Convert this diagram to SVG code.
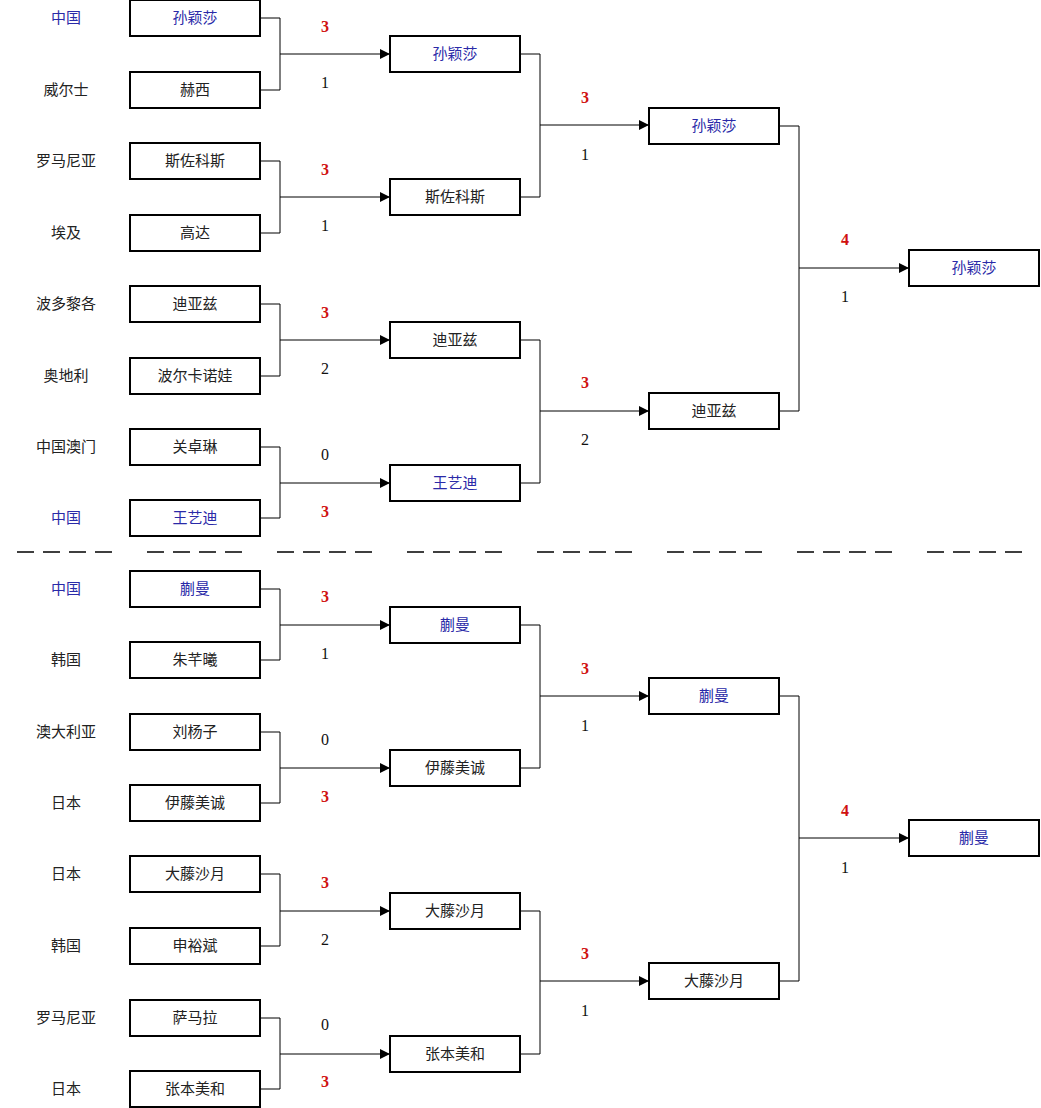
<svg xmlns="http://www.w3.org/2000/svg" width="1041" height="1108" viewBox="0 0 1041 1108">
<style>
.b{fill:#fff;stroke:#000;stroke-width:2}
.t{font-family:"Noto Sans CJK SC","Liberation Sans",sans-serif;font-size:15px;text-anchor:middle;fill:#222}
.c{fill:#2a2aa8}
.s{font-family:"Liberation Serif","Noto Sans CJK SC",serif;font-size:16px;text-anchor:middle;fill:#111}
.w{fill:#d01010;font-weight:bold}
.l{fill:none;stroke:#000;stroke-width:1}
.a{fill:none;stroke:#000;stroke-width:1;marker-end:url(#ar)}
</style>
<defs><marker id="ar" markerWidth="10" markerHeight="10" refX="10" refY="5" orient="auto" markerUnits="userSpaceOnUse"><path d="M0,0 L10,5 L0,10 Z" fill="#000"/></marker></defs>
<rect width="1041" height="1108" fill="#fff"/>
<g id="countries">
<text class="t c" x="66" y="23">中国</text><text class="t" x="66" y="95">威尔士</text><text class="t" x="66" y="166">罗马尼亚</text><text class="t" x="66" y="238">埃及</text><text class="t" x="66" y="309">波多黎各</text><text class="t" x="66" y="381">奥地利</text><text class="t" x="66" y="452">中国澳门</text><text class="t c" x="66" y="523">中国</text>
<text class="t c" x="66" y="594">中国</text><text class="t" x="66" y="665">韩国</text><text class="t" x="66" y="737">澳大利亚</text><text class="t" x="66" y="808">日本</text><text class="t" x="66" y="879">日本</text><text class="t" x="66" y="951">韩国</text><text class="t" x="66" y="1023">罗马尼亚</text><text class="t" x="66" y="1094">日本</text>
</g>
<g id="connectors">
<path class="l" d="M260 18H280V90H260M260 161H280V233H260M260 304H280V376H260M260 447H280V518H260M520 54H540V197H520M520 340H540V483H520M779 126H799V411H779"/>
<path class="a" d="M280 54H390"/><path class="a" d="M280 197H390"/><path class="a" d="M280 340H390"/><path class="a" d="M280 483H390"/>
<path class="a" d="M540 125H649"/><path class="a" d="M540 411H649"/><path class="a" d="M799 268H909"/>
<path class="l" d="M260 589H280V660H260M260 732H280V803H260M260 874H280V946H260M260 1018H280V1089H260M520 625H540V768H520M520 911H540V1054H520M779 696H799V981H779"/>
<path class="a" d="M280 625H390"/><path class="a" d="M280 768H390"/><path class="a" d="M280 911H390"/><path class="a" d="M280 1054H390"/>
<path class="a" d="M540 696H649"/><path class="a" d="M540 981H649"/><path class="a" d="M799 838H909"/>
<path d="M17 552H1022" stroke="#000" stroke-width="1.5" stroke-dasharray="17 9 17 9 17 9 17 35"/>
</g>
<g id="scores">
<text class="s w" x="325" y="32">3</text><text class="s" x="325" y="88">1</text>
<text class="s w" x="325" y="175">3</text><text class="s" x="325" y="231">1</text>
<text class="s w" x="325" y="318">3</text><text class="s" x="325" y="374">2</text>
<text class="s" x="325" y="460">0</text><text class="s w" x="325" y="517">3</text>
<text class="s w" x="585" y="103">3</text><text class="s" x="585" y="160">1</text>
<text class="s w" x="585" y="388">3</text><text class="s" x="585" y="445">2</text>
<text class="s w" x="845" y="245">4</text><text class="s" x="845" y="302">1</text>
<text class="s w" x="325" y="602">3</text><text class="s" x="325" y="659">1</text>
<text class="s" x="325" y="745">0</text><text class="s w" x="325" y="802">3</text>
<text class="s w" x="325" y="888">3</text><text class="s" x="325" y="945">2</text>
<text class="s" x="325" y="1030">0</text><text class="s w" x="325" y="1087">3</text>
<text class="s w" x="585" y="674">3</text><text class="s" x="585" y="731">1</text>
<text class="s w" x="585" y="959">3</text><text class="s" x="585" y="1016">1</text>
<text class="s w" x="845" y="816">4</text><text class="s" x="845" y="873">1</text>
</g>
<g id="r1">
<rect class="b" x="130" y="0" width="130" height="36"/><text class="t c" x="195" y="23">孙颖莎</text>
<rect class="b" x="130" y="72" width="130" height="36"/><text class="t" x="195" y="95">赫西</text>
<rect class="b" x="130" y="143" width="130" height="36"/><text class="t" x="195" y="166">斯佐科斯</text>
<rect class="b" x="130" y="215" width="130" height="36"/><text class="t" x="195" y="238">高达</text>
<rect class="b" x="130" y="286" width="130" height="36"/><text class="t" x="195" y="309">迪亚兹</text>
<rect class="b" x="130" y="358" width="130" height="36"/><text class="t" x="195" y="381">波尔卡诺娃</text>
<rect class="b" x="130" y="429" width="130" height="36"/><text class="t" x="195" y="452">关卓琳</text>
<rect class="b" x="130" y="500" width="130" height="36"/><text class="t c" x="195" y="523">王艺迪</text>
<rect class="b" x="130" y="571" width="130" height="36"/><text class="t c" x="195" y="594">蒯曼</text>
<rect class="b" x="130" y="642" width="130" height="36"/><text class="t" x="195" y="665">朱芊曦</text>
<rect class="b" x="130" y="714" width="130" height="36"/><text class="t" x="195" y="737">刘杨子</text>
<rect class="b" x="130" y="785" width="130" height="36"/><text class="t" x="195" y="808">伊藤美诚</text>
<rect class="b" x="130" y="856" width="130" height="36"/><text class="t" x="195" y="879">大藤沙月</text>
<rect class="b" x="130" y="928" width="130" height="36"/><text class="t" x="195" y="951">申裕斌</text>
<rect class="b" x="130" y="1000" width="130" height="36"/><text class="t" x="195" y="1023">萨马拉</text>
<rect class="b" x="130" y="1071" width="130" height="36"/><text class="t" x="195" y="1094">张本美和</text>
</g>
<g id="r2">
<rect class="b" x="390" y="36" width="130" height="36"/><text class="t c" x="455" y="59">孙颖莎</text>
<rect class="b" x="390" y="179" width="130" height="36"/><text class="t" x="455" y="202">斯佐科斯</text>
<rect class="b" x="390" y="322" width="130" height="36"/><text class="t" x="455" y="345">迪亚兹</text>
<rect class="b" x="390" y="465" width="130" height="36"/><text class="t c" x="455" y="488">王艺迪</text>
<rect class="b" x="390" y="607" width="130" height="36"/><text class="t c" x="455" y="630">蒯曼</text>
<rect class="b" x="390" y="750" width="130" height="36"/><text class="t" x="455" y="773">伊藤美诚</text>
<rect class="b" x="390" y="893" width="130" height="36"/><text class="t" x="455" y="916">大藤沙月</text>
<rect class="b" x="390" y="1036" width="130" height="36"/><text class="t" x="455" y="1059">张本美和</text>
</g>
<g id="r3">
<rect class="b" x="649" y="108" width="130" height="36"/><text class="t c" x="714" y="131">孙颖莎</text>
<rect class="b" x="649" y="393" width="130" height="36"/><text class="t" x="714" y="416">迪亚兹</text>
<rect class="b" x="649" y="678" width="130" height="36"/><text class="t c" x="714" y="701">蒯曼</text>
<rect class="b" x="649" y="963" width="130" height="36"/><text class="t" x="714" y="986">大藤沙月</text>
</g>
<g id="final">
<rect class="b" x="909" y="250" width="130" height="36"/><text class="t c" x="974" y="273">孙颖莎</text>
<rect class="b" x="909" y="820" width="130" height="36"/><text class="t c" x="974" y="843">蒯曼</text>
</g>
</svg>
